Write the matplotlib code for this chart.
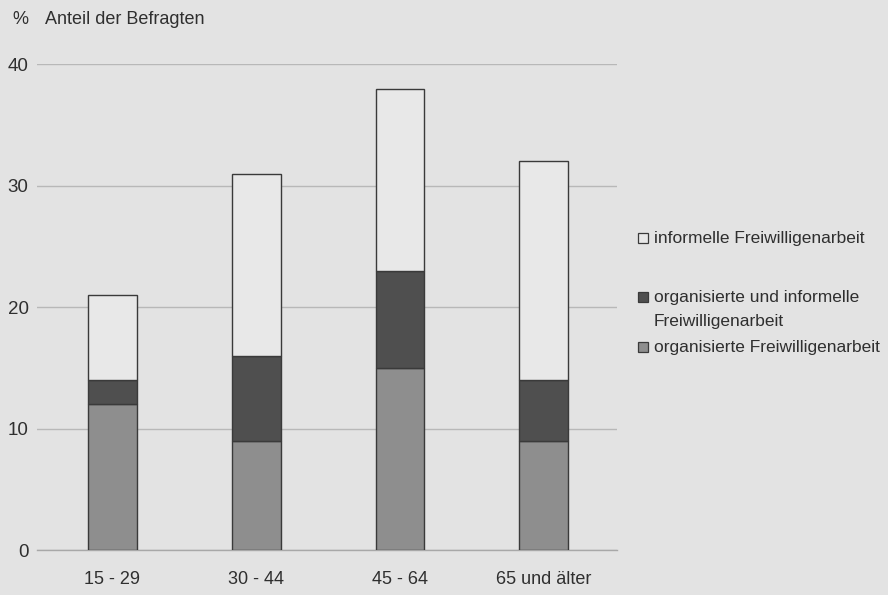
import matplotlib
matplotlib.use("Agg")
import matplotlib.pyplot as plt
from matplotlib.patches import Rectangle
import numpy as np

plt.rcParams['font.family'] = ['Liberation Sans', 'DejaVu Sans']

categories = ["15 - 29", "30 - 44", "45 - 64", "65 und älter"]
organisiert = [12, 9, 15, 9]
beides = [2, 7, 8, 5]
informell = [7, 15, 15, 18]
series_names = ["informelle Freiwilligenarbeit",
                "organisierte und informelle\nFreiwilligenarbeit",
                "organisierte Freiwilligenarbeit"]
yticks = [0, 10, 20, 30, 40]

bg = "#e3e3e3"
c_inf = "#e8e8e8"
c_both = "#4f4f4f"
c_org = "#8e8e8e"
edge = "#3a3a3a"
txt = "#2f2f2f"

W, H = 888, 595
fig = plt.figure(figsize=(W / 100, H / 100), dpi=100, facecolor=bg)
ax = fig.add_axes([37 / W, 1 - 550.3 / H, (617 - 37) / W, (550.3 - 64.3) / H])
ax.set_facecolor(bg)

x = np.arange(len(categories))
bw = 0.34
org = np.array(organisiert)
both = np.array(beides)
inf = np.array(informell)
ax.bar(x, org, bw, color=c_org, edgecolor=edge, linewidth=1.0, zorder=3)
ax.bar(x, both, bw, bottom=org, color=c_both, edgecolor=edge, linewidth=1.0, zorder=3)
ax.bar(x, inf, bw, bottom=org + both, color=c_inf, edgecolor=edge, linewidth=1.0, zorder=3)

ax.set_xlim(-0.525, 3.51)
ax.set_ylim(0, 40)
ax.set_yticks(yticks)
ax.set_yticklabels([str(v) for v in yticks], fontsize=13.5, color=txt)
ax.set_xticks(x)
ax.set_xticklabels(categories, fontsize=13, color=txt)
ax.tick_params(axis="y", length=0, pad=6)
ax.tick_params(axis="x", length=0, pad=15)
ax.grid(axis="y", color="#b8b8b8", linewidth=1.0, zorder=0)
for s in ["top", "right", "left"]:
    ax.spines[s].set_visible(False)
ax.spines["bottom"].set_color("#a8a8a8")
ax.spines["bottom"].set_linewidth(1.0)

fig.text(12 / W, 1 - 20 / H, "%", fontsize=13, color=txt, va="center", ha="left")
fig.text(45 / W, 1 - 20 / H, "Anteil der Befragten", fontsize=13, color=txt,
         va="center", ha="left")

# legend (manual)
leg_colors = [c_inf, c_both, c_org]
leg_y = [238, 297, 347]
sq = 10
for col, name, yy in zip(leg_colors, series_names, leg_y):
    fig.add_artist(Rectangle((638 / W, 1 - (yy + sq / 2) / H), sq / W, sq / H,
                             transform=fig.transFigure, facecolor=col,
                             edgecolor=edge, linewidth=0.9))
    fig.text(654 / W, 1 - (yy - 7) / H, name, fontsize=12.5, color=txt,
             va="top", ha="left", linespacing=1.75)

fig.savefig("out.png", dpi=100, facecolor=bg)
